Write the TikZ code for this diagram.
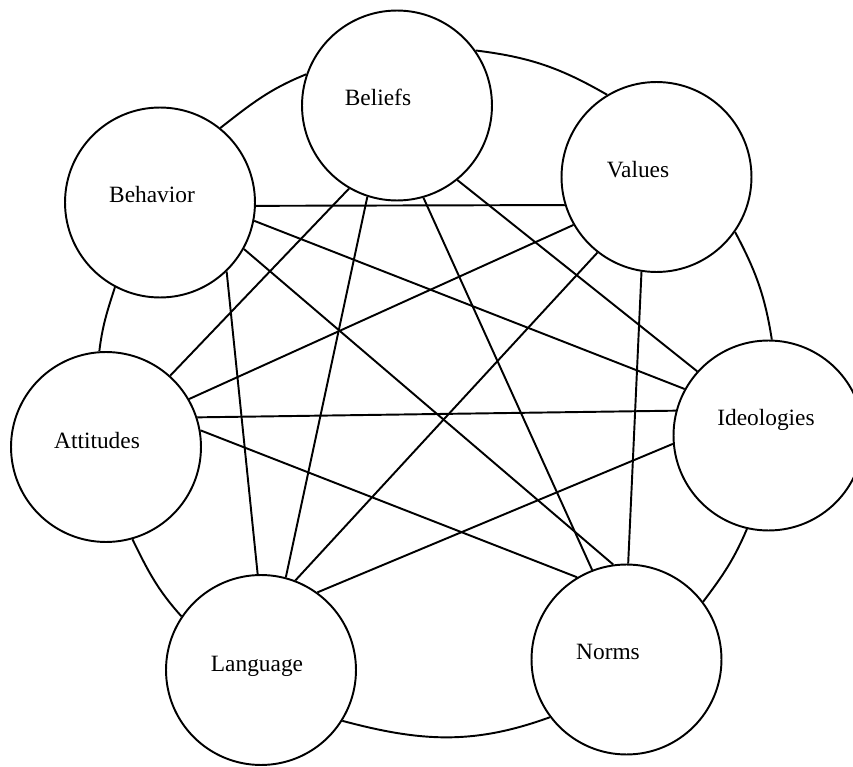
\documentclass[tikz,border=0pt]{standalone}
\usepackage{fontspec}
\setmainfont{Liberation Serif}

\begin{document}
\begin{tikzpicture}[x=0.02cm,y=-0.02cm,
   font=\fontsize{13.3}{16}\selectfont,
   concept/.style={circle, draw, fill=white, line width=1.1pt, minimum size=3.8cm, inner sep=0pt},
   link/.style={line width=1.1pt}]
   \useasboundingbox (0,0) rectangle (853,767);

   \node[concept, label={[shift={(-8,-7.5)}]center:Behavior}]     (Behavior)   at (160,202.5) {} ; %
   \node[concept, label={[shift={(-19,-8.5)}]center:Beliefs}]     (Beliefs)    at (397,105.5) {} ; %
   \node[concept, label={[shift={(-18.5,-7)}]center:Values}]      (Values)     at (656.5,177) {} ; %
   \node[concept, label={[shift={(-2.5,-15.5)}]center:Ideologies}] (Ideologies) at (768.5,435.5) {} ; %
   \node[concept, label={[shift={(-18.5,-7.5)}]center:Norms}]     (Norms)      at (626.5,659.5) {} ; %
   \node[concept, label={[shift={(-4,-4)}]center:Language}]       (Language)   at (261,670) {} ; %
   \node[concept, label={[shift={(-9,-6)}]center:Attitudes}]      (Attitudes)  at (106,447) {} ; %

   % outer ring
   \draw[link] (Behavior.51)    to[out=38, in=202]   (Beliefs.161) ;
   \draw[link] (Beliefs.35)     to[out=-7, in=150]   (Values.121) ;
   \draw[link] (Values.-35)     to[out=-62, in=99]   (Ideologies.88) ;
   \draw[link] (Ideologies.257) to[out=-113, in=53]  (Norms.37) ;
   \draw[link] (Norms.217)      to[out=200, in=-15]  (Language.-32) ;
   \draw[link] (Language.146)   to[out=132, in=-64]  (Attitudes.-74) ;
   \draw[link] (Attitudes.94)   to[out=83, in=252]   (Behavior.242) ;

   % cross links
   \draw[link] (Behavior.-2)  -- (Values.197) ;
   \draw[link] (Behavior.-11) -- (Ideologies.151) ;
   \draw[link] (Behavior.-29) -- (Norms.98) ;
   \draw[link] (Behavior.-46) -- (Language.92) ;
   \draw[link] (Beliefs.240)  -- (Attitudes.48) ;
   \draw[link] (Beliefs.252)  -- (Language.75) ;
   \draw[link] (Beliefs.286)  -- (Norms.111) ;
   \draw[link] (Beliefs.-51)  -- (Ideologies.138) ;
   \draw[link] (Values.210)   -- (Attitudes.30) ;
   \draw[link] (Values.232)   -- (Language.69) ;
   \draw[link] (Values.261)   -- (Norms.89) ;
   \draw[link] (Attitudes.18) -- (Ideologies.165) ;
   \draw[link] (Attitudes.10) -- (Norms.121) ;
   \draw[link] (Language.54)  -- (Ideologies.185) ;

\end{tikzpicture}
\end{document}
